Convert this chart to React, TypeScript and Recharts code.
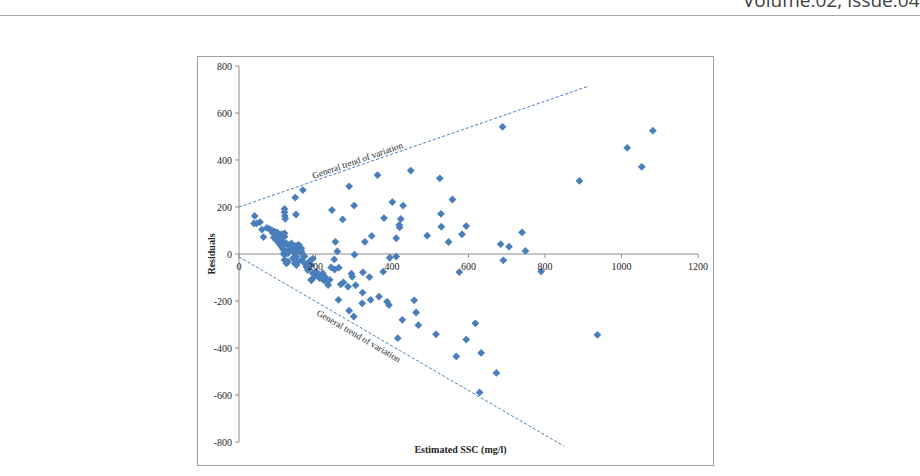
import React from 'react';
import {
  ScatterChart,
  Scatter,
  XAxis,
  YAxis,
  ReferenceLine,
  ReferenceDot,
  Label,
} from 'recharts';

// Estimated SSC (mg/l)
const sscValues: number[] = [
  41, 39, 46, 55, 60, 64, 73, 80, 86, 119, 119, 120, 121, 149, 147, 167,
  243, 252, 257, 271, 288, 301, 302, 329, 347, 379, 362, 394, 401, 411, 411,
  419, 420, 423, 429, 449, 492, 525, 528, 529, 548, 558, 583, 594, 689, 684,
  706, 740, 749, 691, 576, 790, 890, 1015, 1053, 1082, 458, 463, 427, 469, 415,
  515, 618, 594, 568, 633, 673, 629, 937, 377, 324, 341, 294, 296, 189, 260,
  288, 300, 323, 322, 344, 366, 387, 392, 266, 273, 285, 305, 241, 250, 261,
  233, 237, 249,
  // dense cluster
  93, 97, 91, 102, 97, 106, 111, 119, 115, 102, 106, 111, 119, 124, 128, 137,
  133, 146, 154, 154, 146, 115, 124, 117, 119, 128, 137, 150, 159, 163, 157,
  163, 88, 100, 112, 119, 146, 150, 119, 128, 124, 141, 146, 150, 154, 163,
  172, 176, 180, 180, 189, 193, 189, 198, 202, 207, 211, 215, 220, 224, 228,
  219, 224, 185, 193, 166, 171, 108,
];

// Residuals
const residualValues: number[] = [
  162, 130, 130, 136, 104, 72, 111, 106, 100, 192, 178, 162, 150, 168, 240, 272,
  187, 52, 11, 147, 288, 206, -3, 52, 77, 153, 336, -16, 221, 67, -11,
  123, 113, 149, 206, 355, 78, 322, 171, 116, 51, 232, 84, 119, 541, 42,
  31, 92, 13, -27, -77, -74, 311, 452, 371, 525, -197, -249, -280, -303, -358,
  -342, -295, -364, -436, -421, -506, -589, -344, -75, -78, -98, -84, -97, -112, -195,
  -241, -266, -164, -210, -195, -181, -203, -217, -129, -121, -139, -133, -57, -66, -58,
  -132, -110, -23,
  // dense cluster
  95, 84, 70, 74, 60, 67, 60, 74, 52, 52, 43, 31, 38, 45, 38, 24,
  17, 35, 38, 17, 10, 20, 10, 3, -4, 3, 45, 17, 10, 24, 38,
  13, 90, 92, 84, 88, 3, -11, -25, -33, -40, -18, -40, -47, -33, -25,
  -40, -54, -68, -61, -47, -82, -110, -96, -75, -89, -103, -96, -110, -103, -118,
  -82, -96, -30, -20, 0, -10, 80,
];

const points = sscValues.map((x, i) => ({ x, y: residualValues[i] }));

const xTicks = [0, 200, 400, 600, 800, 1000, 1200];
const yTicks = [-800, -600, -400, -200, 0, 200, 400, 600, 800];

const upperTrend = [
  { x: 0, y: 200 },
  { x: 915, y: 715 },
];
const lowerTrend = [
  { x: 0, y: -12 },
  { x: 850, y: -818 },
];
const trendLabel = 'General trend of variation';
const upperLabelAt = { x: 310, y: 398 };
const lowerLabelAt = { x: 313, y: -349 };

const CHART_W = 517;
const CHART_H = 410;
const MARGIN = { top: 10, right: 16, bottom: 0, left: 0 };
const X_AXIS_H = 24;
const PLOT_H = CHART_H - MARGIN.top - MARGIN.bottom - X_AXIS_H;

const BLUE = '#4A7EBB';
const TEXT = '#262626';
const AXIS = '#8C8C8C';
const SERIF = '"Liberation Serif", "Times New Roman", serif';

const Diamond = (props: any) => {
  const { cx, cy } = props;
  if (cx == null || cy == null) return null;
  const r = 3.9;
  return (
    <polygon
      points={`${cx},${cy - r} ${cx + r},${cy} ${cx},${cy + r} ${cx - r},${cy}`}
      fill={BLUE}
    />
  );
};

const XTick = (props: any) => {
  const { x, y, payload } = props;
  const zeroY = y - PLOT_H / 2;
  return (
    <g>
      <line x1={x} x2={x} y1={zeroY} y2={zeroY + 4} stroke={AXIS} strokeWidth={1} />
      <text
        x={x}
        y={zeroY + 12}
        textAnchor="middle"
        dominantBaseline="central"
        fontSize={10}
        fontFamily={SERIF}
        fill={TEXT}
      >
        {payload.value}
      </text>
    </g>
  );
};

const makeTrendText = (angle: number) => (props: any) => {
  const { cx, cy } = props;
  if (cx == null || cy == null) return null;
  return (
    <text
      x={cx}
      y={cy}
      textAnchor="middle"
      dominantBaseline="central"
      fontSize={9.2}
      fontFamily={SERIF}
      fill={TEXT}
      transform={`rotate(${angle} ${cx} ${cy})`}
    >
      {trendLabel}
    </text>
  );
};

export default function App() {
  return (
    <div
      style={{
        position: 'absolute',
        left: 0,
        top: 0,
        width: 920,
        height: 476,
        background: '#fff',
        overflow: 'hidden',
      }}
    >
      <svg width={920} height={476} style={{ position: 'absolute', left: 0, top: 0 }}>
        <text
          x={743}
          y={7}
          fontSize={19}
          fontFamily='"Open Sans", "Noto Sans", sans-serif'
          fill="#404040"
        >
          Volume:02, Issue:04
        </text>
        <line x1={0} x2={920} y1={15.5} y2={15.5} stroke="#A6A6A6" strokeWidth={1} />
        <rect x={197.5} y={56.5} width={516} height={409} fill="none" stroke="#A0A0A0" strokeWidth={1} />
      </svg>
      <div style={{ position: 'absolute', left: 197, top: 56 }}>
        <ScatterChart width={CHART_W} height={CHART_H} margin={MARGIN}>
          <XAxis
            type="number"
            dataKey="x"
            domain={[0, 1200]}
            ticks={xTicks}
            allowDataOverflow
            height={X_AXIS_H}
            axisLine={false}
            tickLine={false}
            tickSize={0}
            tickMargin={0}
            tick={<XTick />}
            interval={0}
          >
            <Label
              content={(p: any) => {
                const vb = p.viewBox || {};
                return (
                  <text
                    x={vb.x + vb.width / 2 - 8}
                    y={vb.y + 7}
                    textAnchor="middle"
                    dominantBaseline="central"
                    fontSize={10}
                    fontWeight="bold"
                    fontFamily={SERIF}
                    fill={TEXT}
                  >
                    Estimated SSC (mg/l)
                  </text>
                );
              }}
            />
          </XAxis>
          <YAxis
            type="number"
            dataKey="y"
            domain={[-800, 800]}
            ticks={yTicks}
            allowDataOverflow
            width={42}
            axisLine={{ stroke: AXIS }}
            tickLine={{ stroke: AXIS }}
            tickSize={4}
            tickMargin={3}
            interval={0}
            tick={{ fontSize: 10, fontFamily: SERIF, fill: TEXT }}
          >
            <Label
              content={(p: any) => {
                const vb = p.viewBox || {};
                const cx = 14;
                const cy = vb.y + vb.height / 2;
                return (
                  <text
                    x={cx}
                    y={cy}
                    textAnchor="middle"
                    dominantBaseline="central"
                    fontSize={10}
                    fontWeight="bold"
                    fontFamily={SERIF}
                    fill={TEXT}
                    transform={`rotate(-90 ${cx} ${cy})`}
                  >
                    Residuals
                  </text>
                );
              }}
            />
          </YAxis>
          <ReferenceLine y={0} stroke={AXIS} strokeWidth={1} />
          <ReferenceLine
            segment={upperTrend}
            stroke={BLUE}
            strokeDasharray="3 2"
            strokeWidth={1}
            ifOverflow="visible"
          />
          <ReferenceLine
            segment={lowerTrend}
            stroke={BLUE}
            strokeDasharray="3 2"
            strokeWidth={1}
            ifOverflow="visible"
          />
          <ReferenceDot
            x={upperLabelAt.x}
            y={upperLabelAt.y}
            ifOverflow="visible"
            shape={makeTrendText(-19.1)}
          />
          <ReferenceDot
            x={lowerLabelAt.x}
            y={lowerLabelAt.y}
            ifOverflow="visible"
            shape={makeTrendText(30.2)}
          />
          <Scatter data={points} shape={<Diamond />} isAnimationActive={false} />
        </ScatterChart>
      </div>
    </div>
  );
}
